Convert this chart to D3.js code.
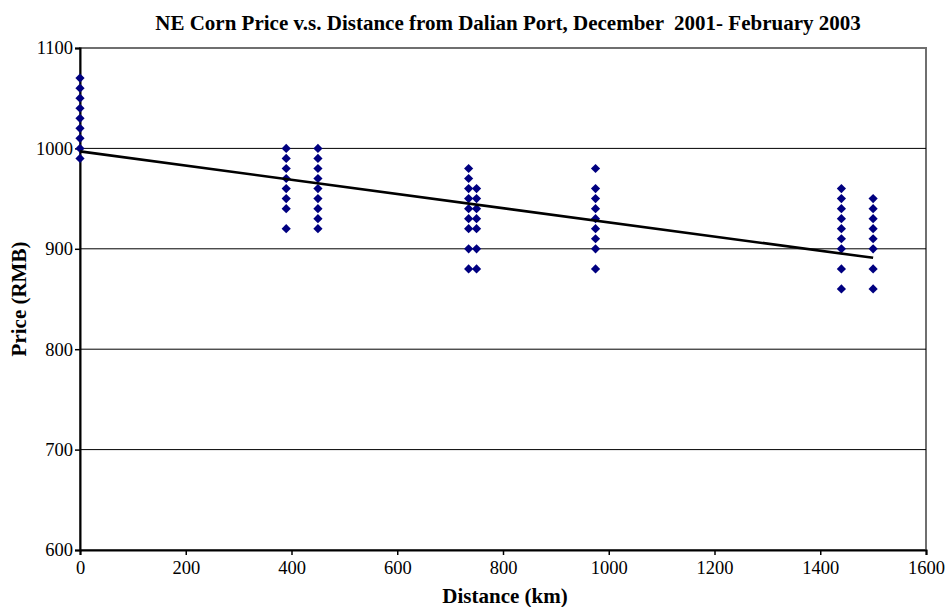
<!DOCTYPE html>
<html>
<head>
<meta charset="utf-8">
<script src="https://cdn.jsdelivr.net/npm/d3@7"></script>
<style>
  body { margin: 0; background: #fff; }
  svg { display: block; }
  svg text { font-family: 'Liberation Serif', 'Times New Roman', serif; }
</style>
</head>
<body>
<svg id="chart" width="947" height="607"></svg>
<script>
// ---- Data ----
const title = "NE Corn Price v.s. Distance from Dalian Port, December  2001- February 2003";
const xLabel = "Distance (km)";
const yLabel = "Price (RMB)";
const xTicks = [0, 200, 400, 600, 800, 1000, 1200, 1400, 1600];
const yTicks = [600, 700, 800, 900, 1000, 1100];

// observations grouped by distance (km) -> prices (RMB)
const distances = [0, 390, 450, 735, 750, 975, 1440, 1500];
const prices = [
  [990, 1000, 1010, 1020, 1030, 1040, 1050, 1060, 1070],
  [920, 940, 950, 960, 970, 980, 990, 1000],
  [920, 930, 940, 950, 960, 970, 980, 990, 1000],
  [880, 900, 920, 930, 940, 950, 960, 970, 980],
  [880, 900, 920, 930, 940, 950, 960],
  [880, 900, 910, 920, 930, 940, 950, 960, 980],
  [860, 880, 900, 910, 920, 930, 940, 950, 960],
  [860, 880, 900, 910, 920, 930, 940, 950]
];
// linear trend line endpoints
const trendX = [0, 1500];
const trendY = [997, 891];

// ---- Layout ----
const svg = d3.select("#chart");
const margin = { left: 80, right: 21, top: 48, bottom: 57 };
const W = 947, H = 607;
const x = d3.scaleLinear().domain([0, 1600]).range([margin.left, W - margin.right]);
const y = d3.scaleLinear().domain([600, 1100]).range([H - margin.bottom, margin.top]);
const serif = "'Liberation Serif', 'Times New Roman', serif";

// plot frame (top/right gray)
svg.append("rect")
  .attr("x", x(0)).attr("y", y(1100))
  .attr("width", x(1600) - x(0)).attr("height", y(600) - y(1100))
  .attr("fill", "#fff").attr("stroke", "#6f6f6f").attr("stroke-width", 2);

// gridlines
svg.append("g").selectAll("line")
  .data(yTicks.filter(d => d > 600 && d < 1100))
  .join("line")
  .attr("x1", x(0)).attr("x2", x(1600))
  .attr("y1", d => y(d)).attr("y2", d => y(d))
  .attr("stroke", "#000").attr("stroke-width", 1);

// axes
const xAxis = svg.append("g")
  .attr("transform", `translate(0,${y(600)})`)
  .call(d3.axisBottom(x).tickValues(xTicks).tickSize(5).tickPadding(6).tickFormat(d3.format("d")));
const yAxis = svg.append("g")
  .attr("transform", `translate(${x(0)},0)`)
  .call(d3.axisLeft(y).tickValues(yTicks).tickSize(5).tickPadding(2).tickFormat(d3.format("d")));
[xAxis, yAxis].forEach(a => {
  a.attr("font-family", serif).attr("font-size", 18.5);
  a.select(".domain").attr("stroke", "#000").attr("stroke-width", 2);
  a.selectAll(".tick line").attr("stroke", "#000").attr("stroke-width", 1.5);
  a.selectAll("text").style("font-family", serif).style("font-size", "18.5px").attr("fill", "#000");
});
xAxis.selectAll("text").attr("dy", "0.72em");

// points
const pts = [];
distances.forEach((d, i) => prices[i].forEach(p => pts.push({ d, p })));
const r = 4.6;
const diamondPath = `M0,${-r}L${r},0L0,${r}L${-r},0Z`;
svg.append("g").selectAll("path")
  .data(pts)
  .join("path")
  .attr("transform", o => `translate(${x(o.d)},${y(o.p)})`)
  .attr("d", diamondPath)
  .attr("fill", "#000080");

// trend line
svg.append("line")
  .attr("x1", x(trendX[0])).attr("y1", y(trendY[0]))
  .attr("x2", x(trendX[1])).attr("y2", y(trendY[1]))
  .attr("stroke", "#000").attr("stroke-width", 2.6);

// title & labels
svg.append("text")
  .attr("x", 508).attr("y", 30)
  .attr("text-anchor", "middle")
  .attr("font-family", serif).attr("font-weight", "bold").attr("font-size", 21)
  .attr("xml:space", "preserve").style("white-space", "pre")
  .text(title);
svg.append("text")
  .attr("x", 505).attr("y", 603)
  .attr("text-anchor", "middle")
  .attr("font-family", serif).attr("font-weight", "bold").attr("font-size", 21)
  .text(xLabel);
svg.append("text")
  .attr("transform", `translate(26,${y(850)}) rotate(-90)`)
  .attr("text-anchor", "middle")
  .attr("font-family", serif).attr("font-weight", "bold").attr("font-size", 21)
  .text(yLabel);
</script>
</body>
</html>
